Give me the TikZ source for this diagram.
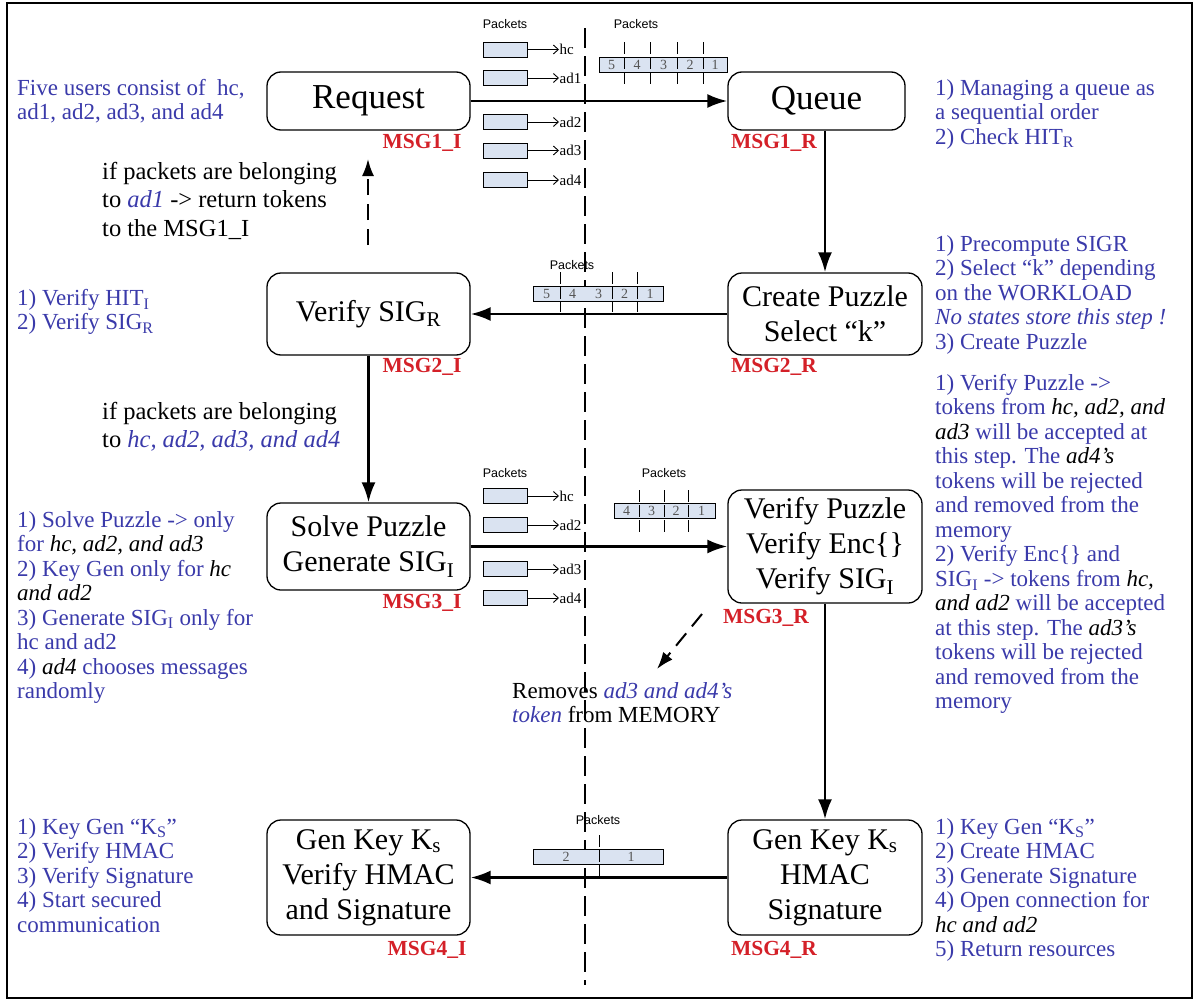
\documentclass[tikz,border=0pt]{standalone}
\usepackage{fontspec}
\setmainfont{Liberation Serif}
\newfontfamily\pktfont{Liberation Sans}
\usetikzlibrary{arrows.meta,calc}
\definecolor{noteblue}{RGB}{58,58,170}
\definecolor{msgred}{RGB}{212,32,40}
\definecolor{pktfill}{RGB}{218,227,241}
\definecolor{digitgray}{RGB}{85,85,85}
\newcommand\blkit[1]{\textcolor{black}{\textit{#1}}}
\newcommand\bluit[1]{\textcolor{noteblue}{\textit{#1}}}

\begin{document}
\begin{tikzpicture}[x=1pt,y=-1pt,
  stage/.style={draw, rounded corners=14pt, line width=1.3pt, align=center,
    inner sep=0pt, font=\fontsize{30}{35}\selectfont},
  bigstage/.style={stage, font=\fontsize{35}{38}\selectfont},
  msg/.style={text=msgred, inner sep=0pt, font=\fontsize{21.5}{24}\selectfont\bfseries},
  note/.style={text=noteblue, align=left, anchor=north west, inner sep=0pt,
    font=\fontsize{23}{24.5}\selectfont},
  remark/.style={text=black, align=left, anchor=north west, inner sep=0pt,
    font=\fontsize{24.5}{28.5}\selectfont},
  flow/.style={line width=2.6pt, -{Latex[length=20pt,width=14pt]}},
  backflow/.style={line width=2pt, dash pattern=on 16pt off 9pt, -{Latex[length=17pt,width=12pt]}},
  pkt/.style={draw, fill=pktfill, line width=0.9pt, minimum width=44pt, minimum height=15pt, inner sep=0pt},
  pktarrow/.style={line width=0.9pt, -{Straight Barb[length=5pt,width=9pt]}},
  pktname/.style={anchor=west, inner sep=0.5pt, font=\fontsize{15}{15}\selectfont},
  pkthead/.style={inner sep=0pt, font=\pktfont\fontsize{12.5}{13}\selectfont},
  bar/.style={draw, fill=pktfill, line width=0.9pt, inner sep=0pt, minimum height=15pt},
  digit/.style={text=digitgray, inner sep=0pt, font=\fontsize{14}{14}\selectfont},
  tick/.style={line width=1pt, dash pattern=on 12pt off 3pt},
]
\useasboundingbox (0,0) rectangle (1195,1001);
\draw[line width=1.2pt] (7,3) rectangle (1192,998);

% the boundary between initiator and responder
\draw[line width=2.4pt, dash pattern=on 20pt off 8pt] (585,28) -- (585,985);

% ---- stages
\node[bigstage, minimum width=203pt, minimum height=58pt] (req) at (368.5,101) {Request};
\node[bigstage, minimum width=177pt, minimum height=58pt] (que) at (816.5,101) {Queue};
\node[stage, minimum width=203pt, minimum height=82pt] (vsig) at (368.5,314) {Verify SIG\textsubscript{R}};
\node[stage, minimum width=194pt, minimum height=82pt] (cpz) at (825,314) {Create Puzzle\\Select “k”};
\node[stage, minimum width=203pt, minimum height=87pt] (spz) at (368.5,546.5) {Solve Puzzle\\Generate SIG\textsubscript{I}};
\node[stage, minimum width=194pt, minimum height=113pt] (vpz) at (825,546.5) {Verify Puzzle\\Verify Enc\{\}\\Verify SIG\textsubscript{I}};
\node[stage, minimum width=203pt, minimum height=115pt] (gkl) at (368.5,877.5) {Gen Key K\textsubscript{s}\\Verify HMAC\\and Signature};
\node[stage, minimum width=194pt, minimum height=115pt] (gkr) at (825,877.5) {Gen Key K\textsubscript{s}\\HMAC\\Signature};

% ---- message labels
\node[msg] (m1i) at (422,143) {MSG1\_I};
\node[msg] (m1r) at (774,143) {MSG1\_R};
\node[msg] (m2i) at (422,367) {MSG2\_I};
\node[msg] (m2r) at (774,367) {MSG2\_R};
\node[msg] (m3i) at (422,603) {MSG3\_I};
\node[msg] (m3r) at (766,618) {MSG3\_R};
\node[msg] (m4i) at (427,950) {MSG4\_I};
\node[msg] (m4r) at (774,950) {MSG4\_R};

% ---- exchanges
\draw[flow] (req.east) -- (que.west);
\draw[flow] (cpz.north |- que.south) -- (cpz.north);
\draw[flow] (cpz.west) -- (vsig.east);
\draw[flow] (vsig.south) -- (spz.north);
\draw[flow] (spz.east) -- (vpz.west);
\draw[flow] (vpz.south) -- (gkr.north);
\draw[flow] (gkr.west) -- (gkl.east);

% returned tokens and removed tokens
\coordinate (retfrom) at (368,245);
\coordinate (retto) at (368,159);
\draw[backflow] (retfrom) -- (retto);
\coordinate (remfrom) at (702,614);
\coordinate (remto) at (657,669);
\draw[backflow] (remfrom) -- (remto);

% ---- packets sent by the five users (MSG1)
\node[pkthead] (ph1) at (505,24) {Packets};
\foreach \y/\u in {49.5/hc, 78/ad1, 122/ad2, 150.5/ad3, 180/ad4}{
  \node[pkt] (p1\u) at (505,\y) {};
  \node[pktname] (n1\u) at (559,\y) {\u};
  \draw[pktarrow] (p1\u.east) -- (n1\u.west);
}
% queue of MSG1 packets
\node[pkthead] (qh1) at (636,24) {Packets};
\node[bar, minimum width=128pt] (q1) at (663,64.5) {};
\foreach \x in {624,650,677,703}{\draw[tick] (\x,42) -- (\x,86);}
\foreach \x/\d in {611.5/5,637/4,663.5/3,690/2,715/1}{\node[digit] at (\x,64.5) {\d};}

% ---- MSG2 packets
\node[pkthead] (qh2) at (572,265) {Packets};
\node[bar, minimum width=130pt] (q2) at (598,293.5) {};
\foreach \x in {560,612,637}{\draw[tick] (\x,272) -- (\x,312);}
\foreach \x/\d in {546.5/5,572.5/4,598.5/3,624.5/2,650/1}{\node[digit] at (\x,293.5) {\d};}

% ---- MSG3 packets
\node[pkthead] (ph3) at (505,473) {Packets};
\foreach \y/\u in {496/hc, 525/ad2, 569/ad3, 598/ad4}{
  \node[pkt] (p3\u) at (505,\y) {};
  \node[pktname] (n3\u) at (559,\y) {\u};
  \draw[pktarrow] (p3\u.east) -- (n3\u.west);
}
\node[pkthead] (qh3) at (664,473) {Packets};
\node[bar, minimum width=101pt] (q3) at (664.5,510.5) {};
\foreach \x in {639,664,688}{\draw[tick] (\x,490) -- (\x,532);}
\foreach \x/\d in {626.5/4,651.5/3,676/2,701.5/1}{\node[digit] at (\x,510.5) {\d};}

% ---- MSG4 packets
\node[pkthead] (qh4) at (598,820) {Packets};
\node[bar, minimum width=130pt] (q4) at (598,856.5) {};
\draw[tick] (599,835) -- (599,878);
\foreach \x/\d in {566/2,631/1}{\node[digit] at (\x,856.5) {\d};}

% ---- initiator side notes
\node[note] (nusers) at (17,79) {Five users consist of~ hc,\\ad1, ad2, ad3, and ad4};
\node[remark] (rret) at (102,162) {if packets are belonging\\to \bluit{ad1} -> return tokens\\to the MSG1\_I};
\node[note] (nmsg2) at (17,289) {1) Verify HIT\textsubscript{I}\\2) Verify SIG\textsubscript{R}};
\node[remark] (rpass) at (102,402) {if packets are belonging\\to \bluit{hc, ad2, ad3, and ad4}};
\node[note] (nmsg3) at (17,511) {1) Solve Puzzle -> only\\for \blkit{hc, ad2, and ad3}\\2) Key Gen only for \blkit{hc}\\\blkit{and ad2}\\3) Generate SIG\textsubscript{I} only for\\hc and ad2\\4) \blkit{ad4} chooses messages\\randomly};
\node[note] (nmsg4) at (17,818) {1) Key Gen “K\textsubscript{S}”\\2) Verify HMAC\\3) Verify Signature\\4) Start secured\\communication};

% ---- responder side notes
\node[note] (rmsg1) at (935,79) {1) Managing a queue as\\a sequential order\\2) Check HIT\textsubscript{R}};
\node[note] (rmsg2) at (935,235) {1) Precompute SIGR\\2) Select “k” depending\\on the WORKLOAD\\\textit{No states store this step !}\\3) Create Puzzle};
\node[note] (rmsg3) at (935,374) {1) Verify Puzzle ->\\tokens from \blkit{hc, ad2, and}\\\blkit{ad3} will be accepted at\\this step. The \blkit{ad4's}\\tokens will be rejected\\and removed from the\\memory\\2) Verify Enc\{\} and\\SIG\textsubscript{I} -> tokens from \blkit{hc,}\\\blkit{and ad2} will be accepted\\at this step. The \blkit{ad3's}\\tokens will be rejected\\and removed from the\\memory};
\node[note] (rmsg4) at (935,818) {1) Key Gen “K\textsubscript{S}”\\2) Create HMAC\\3) Generate Signature\\4) Open connection for\\\blkit{hc and ad2}\\5) Return resources};

% removed tokens
\node[note, text=black] (rrem) at (512,682) {Removes \bluit{ad3 and ad4's}\\\bluit{token} from MEMORY};
\end{tikzpicture}
\end{document}
